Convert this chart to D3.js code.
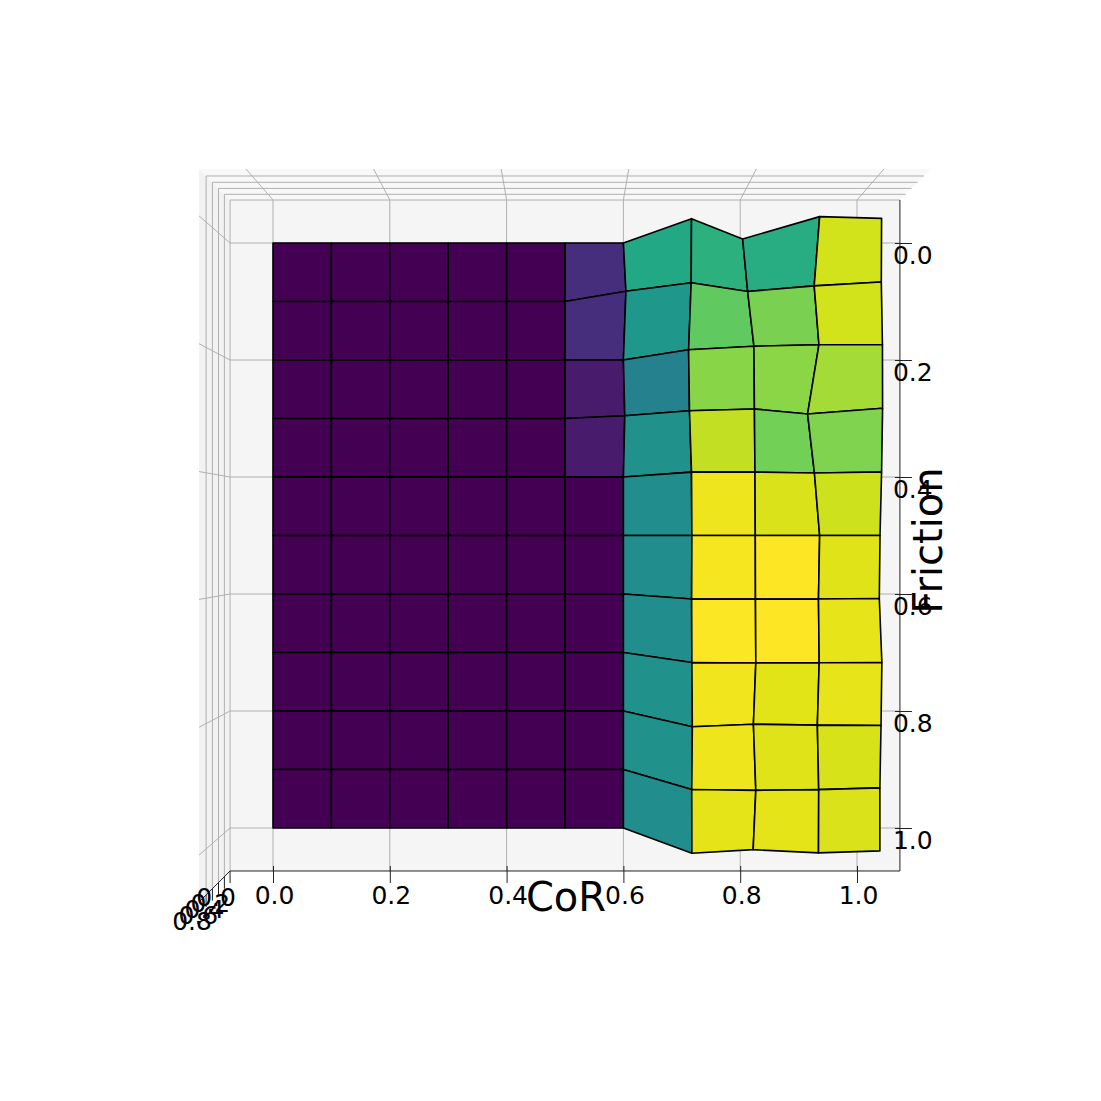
<!DOCTYPE html>
<html>
<head>
<meta charset="utf-8">
<script src="https://cdn.jsdelivr.net/npm/d3@7"></script>
<style>
  html, body { margin: 0; background: #fff; }
  text { font-family: "DejaVu Sans", sans-serif; fill: #000; }
</style>
</head>
<body>
<svg width="1101" height="1101"></svg>
<script>
// grid of the surface
var corValues = [0, 0.1, 0.2, 0.3, 0.4, 0.5, 0.6, 0.7, 0.8, 0.9, 1.0];
var frictionValues = [0, 0.1, 0.2, 0.3, 0.4, 0.5, 0.6, 0.7, 0.8, 0.9, 1.0];

// tick labels
var xyTicks = [0, 0.2, 0.4, 0.6, 0.8, 1.0];
var zTicks = [0, 0.2, 0.4, 0.6, 0.8];

// height for CoR >= 0.6, one list per CoR column, indexed by friction row
// everything below CoR 0.6 is flat at 0
var flatColumn = [0, 0, 0, 0, 0, 0, 0, 0, 0, 0, 0];
var column06 = [0, 0.50, 0, 0.28, 0, 0, 0, 0, 0, 0, 0];
var column07 = [0.92, 0.89, 0.66, 0.74, 0.92, 0.95, 0.93, 0.95, 0.99, 0.94, 0.95];
var column08 = [0.165, 0.49, 0.87, 0.90, 0.93, 0.95, 0.96, 0.98, 0.84, 0.98, 0.825];
var column09 = [0.99, 0.75, 0.96, 0.445, 0.76, 0.99, 0.94, 0.97, 0.89, 0.95, 0.94];
var column10 = [0.93, 0.92, 0.96, 0.965, 0.93, 0.875, 0.85, 0.94, 0.91, 0.87, 0.87];
var heights = [flatColumn, flatColumn, flatColumn, flatColumn, flatColumn, flatColumn,
    column06, column07, column08, column09, column10];

var svg = d3.select("svg");

var xScale = d3.scaleLinear().domain([0, 1]).range([273, 857]);
var yScale = d3.scaleLinear().domain([0, 1]).range([243, 828]);

// box limits, a bit outside the data like mplot3d does
var lo = -0.0735, hi = 1.0735, zTop = 1.014;
// perspective strength
var persp = 0.0835;

// top-down perspective: points get pushed away from the middle as z grows
function project(x, y, z) {
    var f = 1 / (1 - persp * z);
    var cx = xScale(0.5), cy = yScale(0.5);
    return [cx + (xScale(x) - cx) * f, cy + (yScale(y) - cy) * f];
}

var poly = d3.line();

//////////// PANES ////////////

var panes = svg.append("g").attr("class", "panes");
panes.append("path")
    .attr("fill", "#f8f8f8")
    .attr("d", poly([project(lo, lo, 0), project(hi, lo, 0), project(hi, lo, zTop), project(lo, lo, zTop)]) + "Z");
panes.append("path")
    .attr("fill", "#f2f2f2")
    .attr("d", poly([project(lo, lo, 0), project(lo, hi, 0), project(lo, hi, zTop), project(lo, lo, zTop)]) + "Z");
panes.append("path")
    .attr("fill", "#f5f5f5")
    .attr("d", poly([project(lo, lo, 0), project(hi, lo, 0), project(hi, hi, 0), project(lo, hi, 0)]) + "Z");

//////////// GRID ////////////

var gridLines = [];
xyTicks.forEach(function(t) {
    gridLines.push([project(t, lo, 0), project(t, hi, 0)]);
    gridLines.push([project(t, lo, 0), project(t, lo, zTop)]);
    gridLines.push([project(lo, t, 0), project(hi, t, 0)]);
    gridLines.push([project(lo, t, 0), project(lo, t, zTop)]);
});
zTicks.forEach(function(t) {
    gridLines.push([project(lo, hi, t), project(lo, lo, t), project(hi, lo, t)]);
});

svg.append("g").attr("class", "grid")
    .selectAll("path")
    .data(gridLines)
    .enter().append("path")
    .attr("d", poly)
    .attr("fill", "none")
    .attr("stroke", "#b0b0b0")
    .attr("stroke-width", 1);

//////////// AXES ////////////

// the axis edges
var edges = [
    [project(lo, hi, 0), project(hi, hi, 0)],
    [project(hi, lo, 0), project(hi, hi, 0)],
    [project(lo, hi, 0), project(lo, hi, zTop)]
];
svg.append("g").attr("class", "edges")
    .selectAll("path")
    .data(edges)
    .enter().append("path")
    .attr("d", poly)
    .attr("fill", "none")
    .attr("stroke", "#222")
    .attr("stroke-width", 1);

var axisY0 = project(lo, hi, 0)[1] - 5;
var xAxis = svg.append("g")
    .attr("transform", "translate(0," + axisY0 + ")")
    .call(d3.axisBottom(xScale).tickValues(xyTicks).tickFormat(d3.format(".1f")).tickSize(17).tickSizeOuter(0));

var axisX0 = project(hi, lo, 0)[0] - 5;
var yAxis = svg.append("g")
    .attr("transform", "translate(" + axisX0 + ",0)")
    .call(d3.axisRight(yScale).tickValues(xyTicks).tickFormat(d3.format(".1f")).tickSize(17).tickSizeOuter(0));

[xAxis, yAxis].forEach(function(a) {
    a.select(".domain").remove();
    a.attr("font-family", null).attr("font-size", null);
    a.selectAll("line").attr("stroke", "#222").attr("stroke-width", 1);
    a.selectAll("text").style("font-size", "25px");
});
xAxis.selectAll("text").attr("y", 20).attr("dx", 1);
yAxis.selectAll("text").attr("x", -2).attr("dy", "0.82em").attr("text-anchor", "start");

// z ticks sit on the slanted edge, labels pile up at the corner
var zAxis = svg.append("g").attr("class", "z-axis");
zAxis.selectAll("line")
    .data(zTicks)
    .enter().append("line")
    .attr("x1", d => project(lo, hi, d)[0])
    .attr("x2", d => project(lo, hi, d)[0])
    .attr("y1", d => project(lo, hi, d)[1])
    .attr("y2", d => project(lo, hi, d)[1] + 12)
    .attr("stroke", "#222")
    .attr("stroke-width", 1);
zAxis.selectAll("text")
    .data(zTicks)
    .enter().append("text")
    .attr("x", d => project(lo, hi, d)[0] - 14)
    .attr("y", d => project(lo, hi, d)[1] + 35)
    .attr("text-anchor", "middle")
    .style("font-size", "25px")
    .text(d3.format(".1f"));

//////////// SURFACE ////////////

var cells = [];
d3.range(corValues.length - 1).forEach(function(i) {
    d3.range(frictionValues.length - 1).forEach(function(j) {
        var corners = [[i, j], [i + 1, j], [i + 1, j + 1], [i, j + 1]];
        cells.push({
            mean: d3.mean(corners, c => heights[c[0]][c[1]]),
            points: corners.map(c => project(corValues[c[0]], frictionValues[c[1]], heights[c[0]][c[1]]))
        });
    });
});

var color = d3.scaleSequential(d3.interpolateViridis)
    .domain(d3.extent(cells, d => d.mean));

svg.append("g").attr("class", "surface")
    .selectAll("path")
    .data(cells)
    .enter().append("path")
    .attr("d", d => poly(d.points) + "Z")
    .attr("fill", d => color(d.mean))
    .attr("stroke", "#000")
    .attr("stroke-width", 1.6)
    .attr("stroke-linejoin", "round");

//////////// AXIS LABELS ////////////

svg.append("text")
    .attr("x", xScale(0.5) + 1)
    .attr("y", 911)
    .attr("text-anchor", "middle")
    .style("font-size", "40px")
    .text("CoR");

svg.append("text")
    .attr("transform", "translate(942," + (yScale(0.5) + 5) + ") rotate(-90)")
    .attr("text-anchor", "middle")
    .style("font-size", "40px")
    .text("Friction");
</script>
</body>
</html>
